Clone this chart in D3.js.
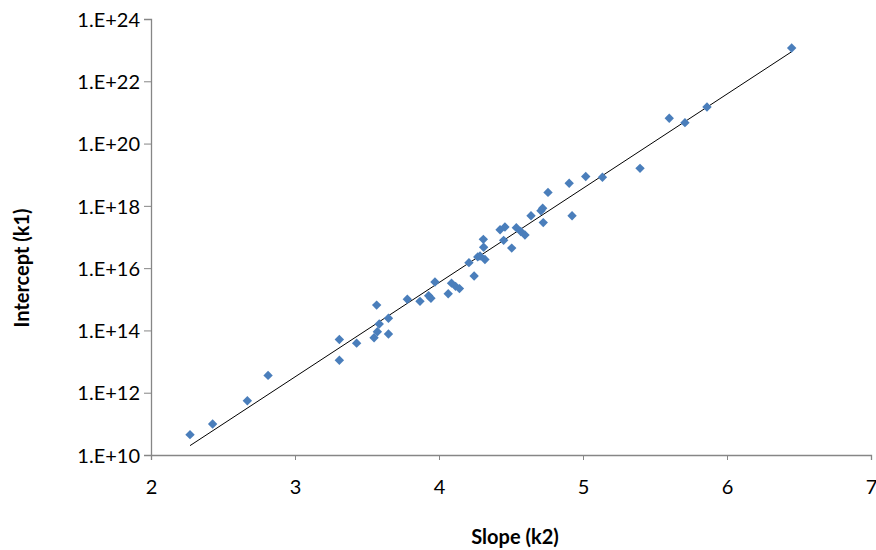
<!DOCTYPE html>
<html><head><meta charset="utf-8">
<script src="https://cdn.jsdelivr.net/npm/d3@7"></script>
<style>body{margin:0;background:#fff}svg{display:block}</style>
</head><body>
<svg id="c" width="876" height="550"></svg>
<script>
const slopeK2 = [2.271,2.428,2.669,2.813,3.308,3.308,3.428,3.567,3.549,3.572,3.585,3.649,3.649,3.780,3.868,3.928,3.944,3.972,4.064,4.087,4.115,4.142,4.208,4.244,4.269,4.285,4.308,4.310,4.319,4.424,4.458,4.449,4.505,4.537,4.568,4.597,4.639,4.708,4.720,4.724,4.757,4.904,4.924,5.019,5.135,5.396,5.599,5.708,5.861,6.449];
const interceptK1 = [4.5e10,9.9e10,5.5e11,3.6e12,5.1e13,1.1e13,3.9e13,6.5e14,5.8e13,9.1e13,1.6e14,2.45e14,7.7e13,1.0e15,8.6e14,1.3e15,1.08e15,3.6e15,1.5e15,3.3e15,2.6e15,2.2e15,1.5e16,5.6e15,2.3e16,2.45e16,8.4e16,4.7e16,1.9e16,1.7e17,2.1e17,7.8e16,4.4e16,2.0e17,1.5e17,1.16e17,4.8e17,7.0e17,8.4e17,2.9e17,2.7e18,5.3e18,4.8e17,8.8e18,8.3e18,1.6e19,6.5e20,4.7e20,1.5e21,1.17e23];
const trendX = [2.271, 6.449];
const trendY = [2.0e10, 8.9e22];
const xTicks = [2,3,4,5,6,7];
const yTicks = [1e10,1e12,1e14,1e16,1e18,1e20,1e22,1e24];
const yTickLabels = ["1.E+10","1.E+12","1.E+14","1.E+16","1.E+18","1.E+20","1.E+22","1.E+24"];

const svg = d3.select("#c");
const mLeft = 151, mRight = 871, mTop = 19, mBottom = 455;
const x = d3.scaleLinear().domain([2,7]).range([mLeft,mRight]);
const y = d3.scaleLog().domain([1e10,1e24]).range([mBottom,mTop]);
const font = "Lato, 'Open Sans', sans-serif";
const axisCol = "#868686";

const gx = svg.append("g").attr("transform",`translate(0,${mBottom})`)
  .call(d3.axisBottom(x).tickValues(xTicks).tickSize(5).tickPadding(22).tickFormat(d3.format("d")));
const gy = svg.append("g").attr("transform",`translate(${mLeft},0)`)
  .call(d3.axisLeft(y).tickValues(yTicks).tickSize(7).tickPadding(4).tickFormat((d,i)=>yTickLabels[i]));
[gx,gy].forEach(g=>{
  g.select(".domain").attr("stroke",axisCol).attr("stroke-width",1.3);
  g.selectAll(".tick line").attr("stroke",axisCol).attr("stroke-width",1);
  g.selectAll("text").attr("fill","#000").style("font-family",font).style("font-size","20px");
});
gy.selectAll("text").attr("dy","0.36em");
gx.selectAll("text").attr("dy","0.6em");

// trendline
svg.append("line")
  .attr("x1",x(trendX[0])).attr("y1",y(trendY[0]))
  .attr("x2",x(trendX[1])).attr("y2",y(trendY[1]))
  .attr("stroke","#000").attr("stroke-width",1);

// points
const pts = slopeK2.map((v,i)=>[v,interceptK1[i]]);
const r = 4.7;
svg.append("g").selectAll("path").data(pts).join("path")
  .attr("d",d=>{const cx=x(d[0]),cy=y(d[1]);return `M${cx},${cy-r}L${cx+r},${cy}L${cx},${cy+r}L${cx-r},${cy}Z`;})
  .attr("fill","#4a7ebb");

svg.append("text").attr("x",515).attr("y",544).attr("text-anchor","middle")
  .style("font-family",font).style("font-size","20px").style("font-weight","bold").text("Slope (k2)");
svg.append("text").attr("transform","translate(29,268) rotate(-90)").attr("text-anchor","middle")
  .style("font-family",font).style("font-size","20px").style("font-weight","bold").text("Intercept (k1)");
</script>
</body></html>
